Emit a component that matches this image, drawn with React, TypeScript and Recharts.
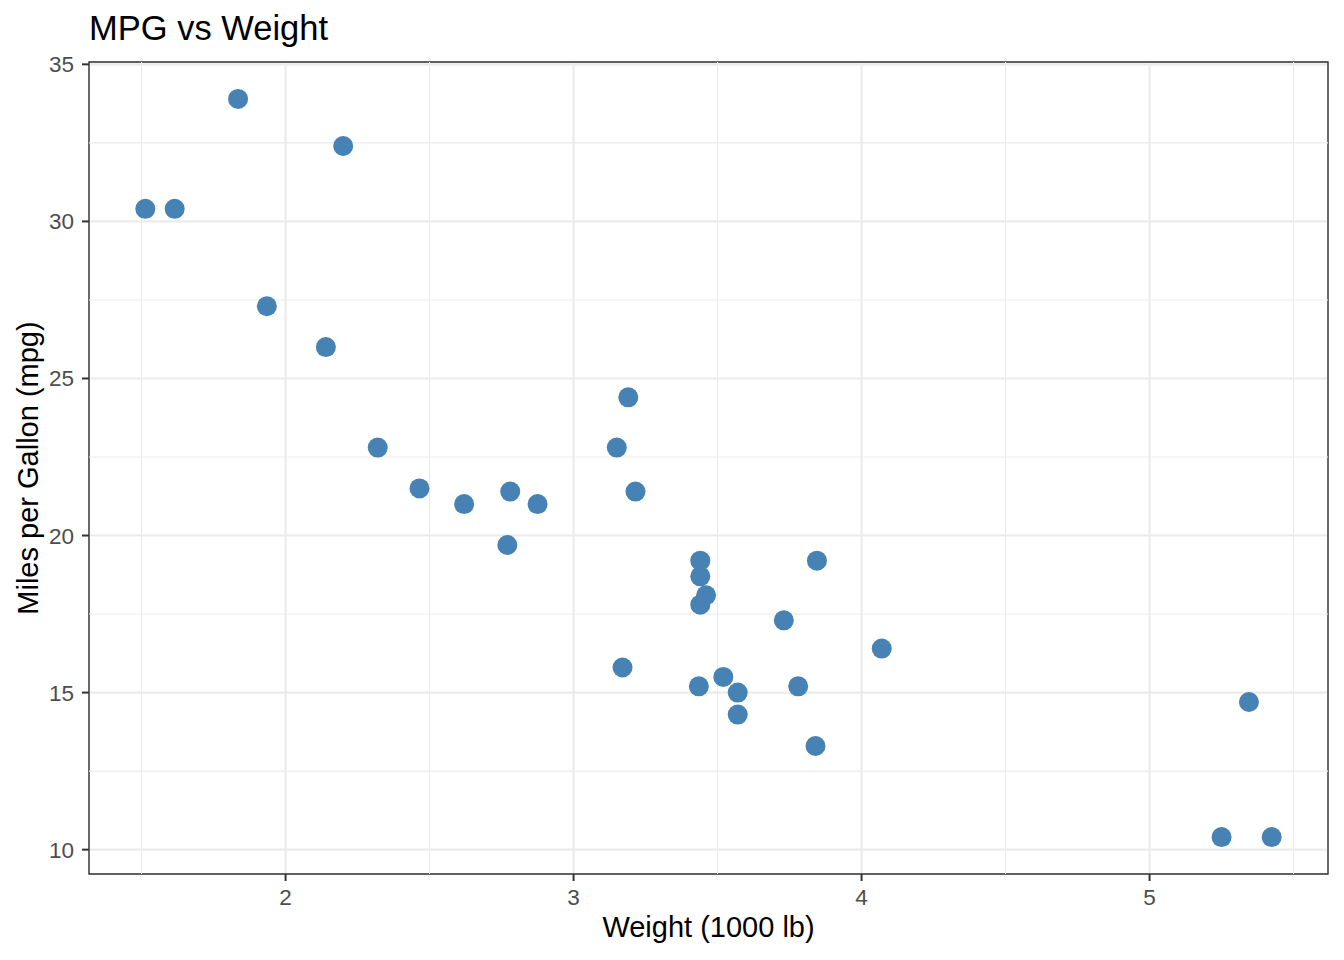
import React from "react";
import {
  ScatterChart,
  Scatter,
  XAxis,
  YAxis,
  CartesianGrid,
  ReferenceLine,
  ReferenceArea,
} from "recharts";

// mtcars: weight (1000 lb) and miles per gallon
const weights = [
  2.62, 2.875, 2.32, 3.215, 3.44, 3.46, 3.57, 3.19, 3.15, 3.44, 3.44, 4.07,
  3.73, 3.78, 5.25, 5.424, 5.345, 2.2, 1.615, 1.835, 2.465, 3.52, 3.435, 3.84,
  3.845, 1.935, 2.14, 1.513, 3.17, 2.77, 3.57, 2.78,
];
const mpgs = [
  21.0, 21.0, 22.8, 21.4, 18.7, 18.1, 14.3, 24.4, 22.8, 19.2, 17.8, 16.4,
  17.3, 15.2, 10.4, 10.4, 14.7, 32.4, 30.4, 33.9, 21.5, 15.5, 15.2, 13.3,
  19.2, 27.3, 26.0, 30.4, 15.8, 19.7, 15.0, 21.4,
];

const xTicks = [2, 3, 4, 5];
const yTicks = [10, 15, 20, 25, 30, 35];
const xMinor = [1.5, 2.5, 3.5, 4.5, 5.5];
const yMinor = [12.5, 17.5, 22.5, 27.5, 32.5];

const X_DOMAIN: [number, number] = [1.31745, 5.61955];
const Y_DOMAIN: [number, number] = [9.225, 35.075];

const FONT = "'Liberation Sans', Arial, Helvetica, sans-serif";
const POINT = "#4682B4";
const GRID = "#EBEBEB";
const INK = "#333333";

const data = weights.map((wt, i) => ({ wt, mpg: mpgs[i] }));

export default function App() {
  const tickStyle = { fontSize: 22.5, fill: "#4D4D4D", fontFamily: FONT };
  return (
    <div
      style={{
        position: "absolute",
        left: 0,
        top: 0,
        width: 1344,
        height: 960,
        background: "#fff",
        fontFamily: FONT,
      }}
    >
      <div
        style={{
          position: "absolute",
          left: 89,
          top: 8,
          fontSize: 34.5,
          lineHeight: "40px",
          color: "#000",
          whiteSpace: "nowrap",
        }}
      >
        MPG vs Weight
      </div>
      <ScatterChart
        width={1344}
        height={960}
        margin={{ top: 62, right: 16, bottom: 0, left: 0 }}
      >
        <CartesianGrid stroke={GRID} strokeWidth={2.1} />
        {xMinor.map((v) => (
          <ReferenceLine key={"x" + v} x={v} stroke={GRID} strokeWidth={1.1} />
        ))}
        {yMinor.map((v) => (
          <ReferenceLine key={"y" + v} y={v} stroke={GRID} strokeWidth={1.1} />
        ))}
        <XAxis
          type="number"
          dataKey="wt"
          domain={X_DOMAIN}
          ticks={xTicks}
          height={86}
          axisLine={false}
          tickSize={7}
          tickMargin={8}
          tickLine={{ stroke: INK, strokeWidth: 2 }}
          tick={tickStyle}
          allowDataOverflow
        />
        <YAxis
          type="number"
          dataKey="mpg"
          domain={Y_DOMAIN}
          ticks={yTicks}
          width={89}
          axisLine={false}
          tickSize={7}
          tickMargin={8}
          tickLine={{ stroke: INK, strokeWidth: 2 }}
          tick={tickStyle}
          allowDataOverflow
        />
        <Scatter
          data={data}
          fill={POINT}
          isAnimationActive={false}
          shape={(p: any) => <circle cx={p.cx} cy={p.cy} r={10} fill={POINT} />}
        />
        <ReferenceArea
          x1={X_DOMAIN[0]}
          x2={X_DOMAIN[1]}
          y1={Y_DOMAIN[0]}
          y2={Y_DOMAIN[1]}
          fill="none"
          fillOpacity={0}
          stroke={INK}
          strokeWidth={1.4}
        />
      </ScatterChart>
      <div
        style={{
          position: "absolute",
          left: 89,
          width: 1239,
          top: 911,
          textAlign: "center",
          fontSize: 29,
          lineHeight: "32px",
          color: "#000",
        }}
      >
        Weight (1000 lb)
      </div>
      <div
        style={{
          position: "absolute",
          left: 28 - 406,
          top: 468 - 16,
          width: 812,
          textAlign: "center",
          fontSize: 29,
          lineHeight: "32px",
          color: "#000",
          transform: "rotate(-90deg)",
          transformOrigin: "center center",
        }}
      >
        Miles per Gallon (mpg)
      </div>
    </div>
  );
}
